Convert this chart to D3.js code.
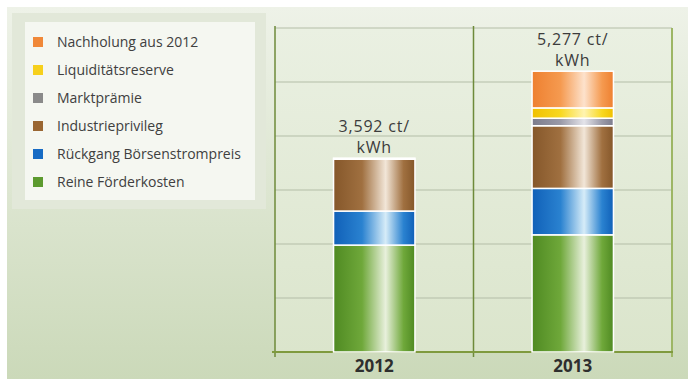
<!DOCTYPE html>
<html>
<head>
<meta charset="utf-8">
<script src="https://cdn.jsdelivr.net/npm/d3@7"></script>
<style>
  body { margin: 0; background: #ffffff; }
  text { font-family: "Open Sans", sans-serif; }
</style>
</head>
<body>
<div id="main"></div>
<script>
// ---------------- data -----------------//

let years = ["2012", "2013"];
let totalLabels = ["3,592 ct/", "5,277 ct/"];
let unitLabel = "kWh";

let seriesNames = [
  "Reine Förderkosten",
  "Rückgang Börsenstrompreis",
  "Industrieprivileg",
  "Marktprämie",
  "Liquiditätsreserve",
  "Nachholung aus 2012"
];

// ct/kWh
let foerderkosten = [1.98, 2.17];
let boersenpreis = [0.63, 0.86];
let industrie = [0.96, 1.16];
let marktpraemie = [0.02, 0.14];
let liquiditaet = [0, 0.19];
let nachholung = [0, 0.68];

let yTicks = [0, 1, 2, 3, 4, 5, 6];

// ---------------- global formatting vars -----------------//

let width = 688;
let height = 379;

let colors = {
  "Reine Förderkosten": ["#4f8a22", "#6fa83a", "#e8f0dc"],
  "Rückgang Börsenstrompreis": ["#1060b8", "#2a82d0", "#d6ecf8"],
  "Industrieprivileg": ["#85572a", "#a07040", "#f2e6d8"],
  "Marktprämie": ["#7c7c8c", "#9a9aa8", "#e4e4ea"],
  "Liquiditätsreserve": ["#f0c000", "#f8d820", "#fff4b0"],
  "Nachholung aus 2012": ["#ee8030", "#f59a50", "#fde2cc"]
};
let legendColors = {
  "Reine Förderkosten": "#5c9a2e",
  "Rückgang Börsenstrompreis": "#176bc4",
  "Industrieprivileg": "#9a6632",
  "Marktprämie": "#8a8a8a",
  "Liquiditätsreserve": "#f6d01c",
  "Nachholung aus 2012": "#f08838"
};

let svg = d3.select("#main")
  .append("svg")
  .attr("width", width)
  .attr("height", height);

let defs = svg.append("defs");

// panel background
let bg = defs.append("linearGradient")
  .attr("id", "bg").attr("x1", 0).attr("y1", 0).attr("x2", 0).attr("y2", 1);
bg.append("stop").attr("offset", "0%").attr("stop-color", "#eef2e8");
bg.append("stop").attr("offset", "100%").attr("stop-color", "#cbd9b9");

let plotBg = defs.append("linearGradient")
  .attr("id", "plotBg").attr("x1", 0).attr("y1", 0).attr("x2", 0).attr("y2", 1);
plotBg.append("stop").attr("offset", "0%").attr("stop-color", "#eaf0e2");
plotBg.append("stop").attr("offset", "100%").attr("stop-color", "#dbe5cc");

// one horizontal shine gradient per series
seriesNames.forEach(function(name, i) {
  let c = colors[name];
  let g = defs.append("linearGradient")
    .attr("id", "grad" + i)
    .attr("x1", 0).attr("y1", 0).attr("x2", 1).attr("y2", 0);
  g.append("stop").attr("offset", "0%").attr("stop-color", c[0]);
  g.append("stop").attr("offset", "35%").attr("stop-color", c[1]);
  g.append("stop").attr("offset", "64%").attr("stop-color", c[2]);
  g.append("stop").attr("offset", "86%").attr("stop-color", c[1]);
  g.append("stop").attr("offset", "100%").attr("stop-color", c[0]);
});

svg.append("rect")
  .attr("x", 7).attr("y", 7)
  .attr("width", width - 7).attr("height", height - 7)
  .attr("fill", "url(#bg)");

// ------- scales -------------//

let x = d3.scaleBand()
  .domain(years)
  .range([275, 672]);

let y = d3.scaleLinear()
  .domain([0, 6])
  .range([352, 28]);

let barWidth = x.bandwidth() * 0.41;

// ------- plot area & grid -------------//

svg.append("rect")
  .attr("x", x.range()[0]).attr("y", y(6))
  .attr("width", x.range()[1] - x.range()[0])
  .attr("height", y(0) - y(6))
  .attr("fill", "url(#plotBg)");

svg.selectAll(".grid")
  .data(yTicks.slice(1))
  .join("line")
  .attr("class", "grid")
  .attr("x1", x.range()[0])
  .attr("x2", x.range()[1])
  .attr("y1", d => y(d))
  .attr("y2", d => y(d))
  .attr("stroke", "#b4bea8")
  .attr("stroke-width", 1.2);

// right border
svg.append("line")
  .attr("x1", x.range()[1]).attr("x2", x.range()[1])
  .attr("y1", y(6)).attr("y2", y(0) + 5)
  .attr("stroke", "#9db665").attr("stroke-width", 2);

// category separators + left axis
let sepX = [x.range()[0], x(years[1])];
svg.selectAll(".sep")
  .data(sepX)
  .join("line")
  .attr("class", "sep")
  .attr("x1", d => d).attr("x2", d => d)
  .attr("y1", y(6) - 2).attr("y2", y(0) + 5)
  .attr("stroke", "#6e8a3a")
  .attr("stroke-width", 1.5);

// baseline
svg.append("line")
  .attr("x1", x.range()[0] - 3).attr("x2", x.range()[1] + 1)
  .attr("y1", y(0)).attr("y2", y(0))
  .attr("stroke", "#7f9a3e")
  .attr("stroke-width", 2);

// ------- stacked bars -------------//

let table = years.map(function(yr, i) {
  return {
    year: yr,
    "Reine Förderkosten": foerderkosten[i],
    "Rückgang Börsenstrompreis": boersenpreis[i],
    "Industrieprivileg": industrie[i],
    "Marktprämie": marktpraemie[i],
    "Liquiditätsreserve": liquiditaet[i],
    "Nachholung aus 2012": nachholung[i]
  };
});

let stacked = d3.stack().keys(seriesNames)(table);

svg.selectAll(".series")
  .data(stacked)
  .join("g")
  .attr("class", "series")
  .attr("fill", (d, i) => "url(#grad" + i + ")")
  .selectAll("rect")
  .data(d => d.filter(s => s[1] - s[0] > 0))
  .join("rect")
  .attr("x", d => x(d.data.year) + (x.bandwidth() - barWidth) / 2)
  .attr("y", d => y(d[1]))
  .attr("width", barWidth)
  .attr("height", d => y(d[0]) - y(d[1]))
  .attr("stroke", "#ffffff")
  .attr("stroke-width", 1.5);

// total labels, two lines each
let tops = years.map((yr, i) => d3.max(stacked, s => s[i][1]));

years.forEach(function(yr, i) {
  let cx = x(yr) + x.bandwidth() / 2;
  svg.append("text")
    .attr("x", cx)
    .attr("y", y(tops[i]) - 26)
    .attr("text-anchor", "middle")
    .attr("font-size", 16)
    .attr("letter-spacing", 0.8)
    .attr("fill", "#3c3c3c")
    .text(totalLabels[i]);
  svg.append("text")
    .attr("x", cx)
    .attr("y", y(tops[i]) - 5)
    .attr("text-anchor", "middle")
    .attr("font-size", 16)
    .attr("letter-spacing", 0.8)
    .attr("fill", "#3c3c3c")
    .text(unitLabel);
});

// year labels
svg.selectAll(".year")
  .data(years)
  .join("text")
  .attr("class", "year")
  .attr("x", d => x(d) + x.bandwidth() / 2)
  .attr("y", y(0) + 20)
  .attr("text-anchor", "middle")
  .attr("font-size", 17)
  .attr("font-weight", "bold")
  .attr("fill", "#2e2e2e")
  .text(d => d);

// ------- legend ------------- //

svg.append("rect")
  .attr("x", 12).attr("y", 13)
  .attr("width", 254).attr("height", 196)
  .attr("fill", "#e2e8d9");

svg.append("rect")
  .attr("x", 25).attr("y", 22)
  .attr("width", 230).attr("height", 178)
  .attr("fill", "#f5f7f1");

let legendOrder = seriesNames.slice().reverse();

let legend = svg.selectAll(".legend")
  .data(legendOrder)
  .join("g")
  .attr("class", "legend")
  .attr("transform", (d, i) => `translate(33, ${42 + i * 28})`);

legend.append("rect")
  .attr("x", 0).attr("y", -5)
  .attr("width", 10).attr("height", 10)
  .attr("fill", d => legendColors[d]);

legend.append("text")
  .attr("x", 24)
  .attr("y", 5)
  .attr("font-size", 14)
  .attr("fill", "#404040")
  .text(d => d);
</script>
</body>
</html>
